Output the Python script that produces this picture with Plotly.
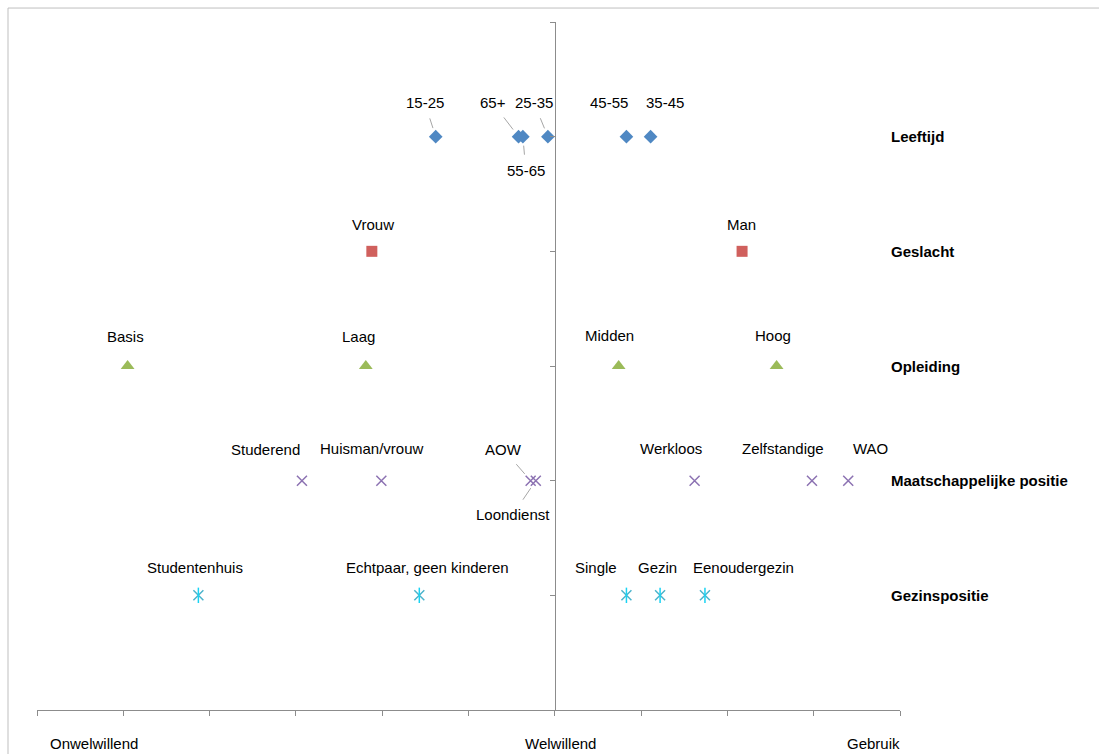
import plotly.graph_objects as go

# Row positions of the five groups (top to bottom)
groups = ["Leeftijd", "Geslacht", "Opleiding", "Maatschappelijke positie", "Gezinspositie"]
group_rows = [5, 4, 3, 2, 1]

# Scores per group on the Onwelwillend - Welwillend - Gebruik scale
leeftijd_labels = ["15-25", "65+", "55-65", "25-35", "45-55", "35-45"]
leeftijd_values = [-1.38, -0.42, -0.37, -0.08, 0.83, 1.11]

geslacht_labels = ["Vrouw", "Man"]
geslacht_values = [-2.12, 2.17]

opleiding_labels = ["Basis", "Laag", "Midden", "Hoog"]
opleiding_values = [-4.95, -2.19, 0.74, 2.57]

positie_labels = ["Studerend", "Huisman/vrouw", "AOW", "Loondienst", "Werkloos", "Zelfstandige", "WAO"]
positie_values = [-2.93, -2.01, -0.28, -0.22, 1.62, 2.98, 3.40]

gezin_labels = ["Studentenhuis", "Echtpaar, geen kinderen", "Single", "Gezin", "Eenoudergezin"]
gezin_values = [-4.13, -1.57, 0.83, 1.22, 1.74]

scale_labels = ["Onwelwillend", "Welwillend", "Gebruik"]
scale_label_x = [-5.34, 0.07, 3.69]

# Label placement (pixel offsets of the text centre from its marker) and leader lines
label_offsets = {
    "15-25": (-11, -34, True), "65+": (-26, -34, True), "55-65": (3, 34, True),
    "25-35": (-14, -34, True), "45-55": (-17, -34, False), "35-45": (14, -34, False),
    "Vrouw": (1, -27, False), "Man": (-1, -27, False),
    "Basis": (-2, -30, False), "Laag": (-7, -30, False), "Midden": (-9, -31, False), "Hoog": (-4, -31, False),
    "Studerend": (-36, -31, False), "Huisman/vrouw": (-9, -32, False), "AOW": (-27, -31, True),
    "Loondienst": (-23, 34, True), "Werkloos": (-24, -32, False), "Zelfstandige": (-29, -32, False),
    "WAO": (22, -32, False),
    "Studentenhuis": (-3, -28, False), "Echtpaar, geen kinderen": (8, -28, False),
    "Single": (-30, -28, False), "Gezin": (-3, -28, False), "Eenoudergezin": (39, -28, False),
}

FONT = "Arial, Liberation Sans, sans-serif"
AXIS_GREY = "#8c8c8c"

series = [
    (leeftijd_labels, leeftijd_values, group_rows[0], dict(symbol="diamond", size=10.5, color="#4F88C3")),
    (geslacht_labels, geslacht_values, group_rows[1], dict(symbol="square", size=11, color="#D0605D")),
    (opleiding_labels, opleiding_values, group_rows[2], dict(symbol="triangle-up", size=12, color="#9BBB59")),
    (positie_labels, positie_values, group_rows[3],
     dict(symbol="x-thin-open", size=10, color="#8C72B2", line=dict(width=1.5, color="#8C72B2"))),
    (gezin_labels, gezin_values, group_rows[4],
     dict(symbol="x-thin-open", size=10, color="#4BB4CC", line=dict(width=1.5, color="#4BB4CC"))),
]

fig = go.Figure()
annotations = []

for labels, values, row, marker in series:
    fig.add_trace(go.Scatter(
        x=values, y=[row] * len(values), mode="markers",
        marker=marker, hoverinfo="text", text=labels, showlegend=False,
    ))
    for lab, val in zip(labels, values):
        dx, dy, leader = label_offsets[lab]
        annotations.append(dict(
            x=val, y=row, xref="x", yref="y", text=lab,
            showarrow=True, ax=dx, ay=dy, arrowhead=0, arrowwidth=1,
            arrowcolor="#a6a6a6" if leader else "rgba(0,0,0,0)",
            standoff=9, startstandoff=6,
            font=dict(family=FONT, size=15, color="#000000"),
        ))

# The star marker of Gezinspositie: vertical stroke over the x
fig.add_trace(go.Scatter(
    x=gezin_values, y=[group_rows[4]] * len(gezin_values), mode="markers",
    marker=dict(symbol="line-ns-open", size=11, line=dict(width=1.5, color="#4BB4CC")),
    hoverinfo="skip", showlegend=False,
))

# Group names to the right of the plot
for name, row in zip(groups, group_rows):
    annotations.append(dict(
        x=1.0, y=row, xref="paper", yref="y", text="<b>" + name + "</b>",
        xanchor="left", showarrow=False, xshift=-11,
        font=dict(family=FONT, size=15, color="#000000"),
    ))

# Scale labels below the horizontal axis
for lab, xv in zip(scale_labels, scale_label_x):
    annotations.append(dict(
        x=xv, y=0, xref="x", yref="y", text=lab, showarrow=False,
        yshift=-33, font=dict(family=FONT, size=15, color="#000000"),
    ))

fig.update_layout(
    width=1099, height=754,
    margin=dict(l=37, r=199, t=22, b=44),
    paper_bgcolor="white", plot_bgcolor="white",
    annotations=annotations,
    xaxis=dict(
        range=[-6, 4], dtick=1, tick0=-6, showgrid=False, zeroline=False,
        showline=True, linecolor=AXIS_GREY, linewidth=1,
        ticks="outside", ticklen=5, tickcolor=AXIS_GREY,
        showticklabels=False, fixedrange=True,
    ),
    yaxis=dict(
        range=[0, 6], dtick=1, tick0=0, showgrid=False, zeroline=False,
        anchor="free", position=0.6,
        showline=True, linecolor=AXIS_GREY, linewidth=1,
        ticks="outside", ticklen=5, tickcolor=AXIS_GREY,
        showticklabels=False, fixedrange=True,
    ),
    shapes=[dict(
        type="rect", xref="paper", yref="paper",
        x0=-0.0336, x1=1.3, y0=-0.2, y1=1.0203,
        line=dict(color="#bfbfbf", width=1), fillcolor="rgba(0,0,0,0)", layer="below",
    )],
)

fig.write_html("out.html")
